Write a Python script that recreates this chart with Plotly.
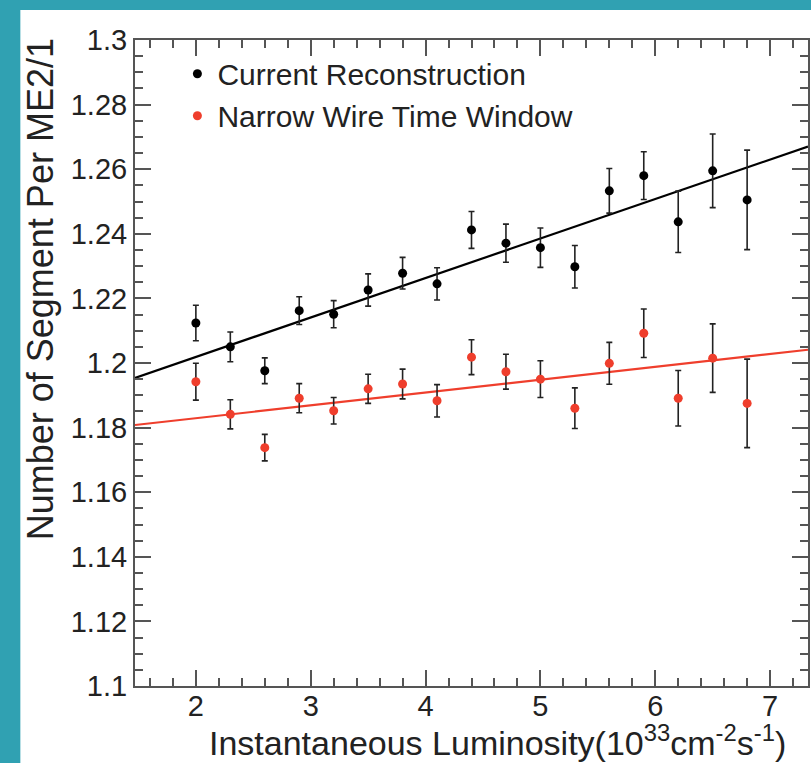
import plotly.graph_objects as go

# ---- data ----
lumi = [2.0, 2.3, 2.6, 2.9, 3.2, 3.5, 3.8, 4.1, 4.4, 4.7, 5.0, 5.3, 5.6, 5.9, 6.2, 6.5, 6.8]
current_y = [1.2124, 1.2050, 1.1976, 1.2162, 1.2151, 1.2226, 1.2278, 1.2245, 1.2412,
             1.2371, 1.2357, 1.2298, 1.2533, 1.2580, 1.2437, 1.2595, 1.2505]
current_err = [0.0055, 0.0046, 0.0040, 0.0043, 0.0042, 0.0050, 0.0049, 0.0050, 0.0057,
               0.0059, 0.0061, 0.0066, 0.0069, 0.0074, 0.0095, 0.0114, 0.0154]
narrow_y = [1.1942, 1.1841, 1.1738, 1.1891, 1.1852, 1.1920, 1.1935, 1.1883, 1.2018,
            1.1973, 1.1950, 1.1860, 1.1999, 1.2092, 1.1891, 1.2015, 1.1875]
narrow_err = [0.0057, 0.0045, 0.0041, 0.0045, 0.0041, 0.0045, 0.0046, 0.0050, 0.0054,
              0.0054, 0.0057, 0.0063, 0.0065, 0.0075, 0.0086, 0.0106, 0.0137]
fit_current_x = [1.47, 7.33]
fit_current_y = [1.1954, 1.2670]
fit_narrow_x = [1.47, 7.33]
fit_narrow_y = [1.1808, 1.2041]
y_tickvals = [1.1, 1.12, 1.14, 1.16, 1.18, 1.2, 1.22, 1.24, 1.26, 1.28, 1.3]
y_ticktext = ["1.1", "1.12", "1.14", "1.16", "1.18", "1.2", "1.22", "1.24", "1.26", "1.28", "1.3"]
x_tickvals = [2, 3, 4, 5, 6, 7]
x_ticktext = ["2", "3", "4", "5", "6", "7"]

RED = "#EF3E2C"
TEAL = "#30A1B2"
FONT = "Liberation Sans, Arial, Helvetica, sans-serif"

fig = go.Figure()

fig.add_trace(go.Scatter(x=fit_current_x, y=fit_current_y, mode="lines",
                         line=dict(color="black", width=2.2), showlegend=False, hoverinfo="skip"))
fig.add_trace(go.Scatter(x=fit_narrow_x, y=fit_narrow_y, mode="lines",
                         line=dict(color=RED, width=2.2), showlegend=False, hoverinfo="skip"))

fig.add_trace(go.Scatter(
    x=lumi, y=current_y, mode="markers", name="Current Reconstruction",
    marker=dict(color="black", size=9),
    error_y=dict(type="data", array=current_err, color="#222", thickness=1.6, width=3),
))
fig.add_trace(go.Scatter(
    x=lumi, y=narrow_y, mode="markers", name="Narrow Wire Time Window",
    marker=dict(color=RED, size=9),
    error_y=dict(type="data", array=narrow_err, color="#222", thickness=1.6, width=3),
))

axis_common = dict(
    showline=True, linecolor="#555", linewidth=2, mirror="allticks",
    ticks="inside", tickcolor="#555", tickwidth=2, ticklen=16,
    showgrid=False, zeroline=False,
    tickfont=dict(family=FONT, size=29, color="#222"),
)

fig.update_xaxes(range=[1.47, 7.33], tickmode="array", tickvals=x_tickvals, ticktext=x_ticktext,
                 ticklabelstandoff=-7,
                 minor=dict(tickmode="linear", tick0=1.0, dtick=0.2, ticks="inside", ticklen=8,
                            tickcolor="#555", tickwidth=2),
                 **axis_common)
fig.update_yaxes(range=[1.1, 1.3], tickmode="array", tickvals=y_tickvals, ticktext=y_ticktext,
                 minor=dict(tickmode="linear", tick0=1.1, dtick=0.005, ticks="inside", ticklen=8,
                            tickcolor="#555", tickwidth=2),
                 **axis_common)

# white sheet on teal background
fig.add_shape(type="rect", xref="paper", yref="paper",
              x0=(20 - 135) / 675, x1=1.2, y0=-0.3, y1=(686 - 10) / 646,
              fillcolor="white", line=dict(width=0), layer="below")

fig.add_annotation(xref="paper", yref="paper", x=(499 - 135) / 675, y=(686 - 764) / 646,
                   text="Instantaneous Luminosity(10<sup>33</sup>cm<sup>-2</sup>s<sup>-1</sup>)",
                   showarrow=False, xanchor="center", yanchor="bottom",
                   font=dict(family=FONT, size=34, color="#222"))
fig.add_annotation(xref="paper", yref="paper", x=(40 - 135) / 675, y=(686 - 289) / 646,
                   text="Number of Segment Per ME2/1", textangle=-90,
                   showarrow=False, xanchor="center", yanchor="middle",
                   font=dict(family=FONT, size=36, color="#222"))

fig.update_layout(
    width=811, height=763,
    margin=dict(l=135, r=1, t=40, b=77),
    paper_bgcolor=TEAL, plot_bgcolor="white",
    showlegend=True,
    legend=dict(x=0.063, y=0.988, xanchor="left", yanchor="top",
                bgcolor="rgba(0,0,0,0)", font=dict(family=FONT, size=30, color="#222"),
                itemsizing="trace", tracegroupgap=0),
)

fig.write_html("out.html")
